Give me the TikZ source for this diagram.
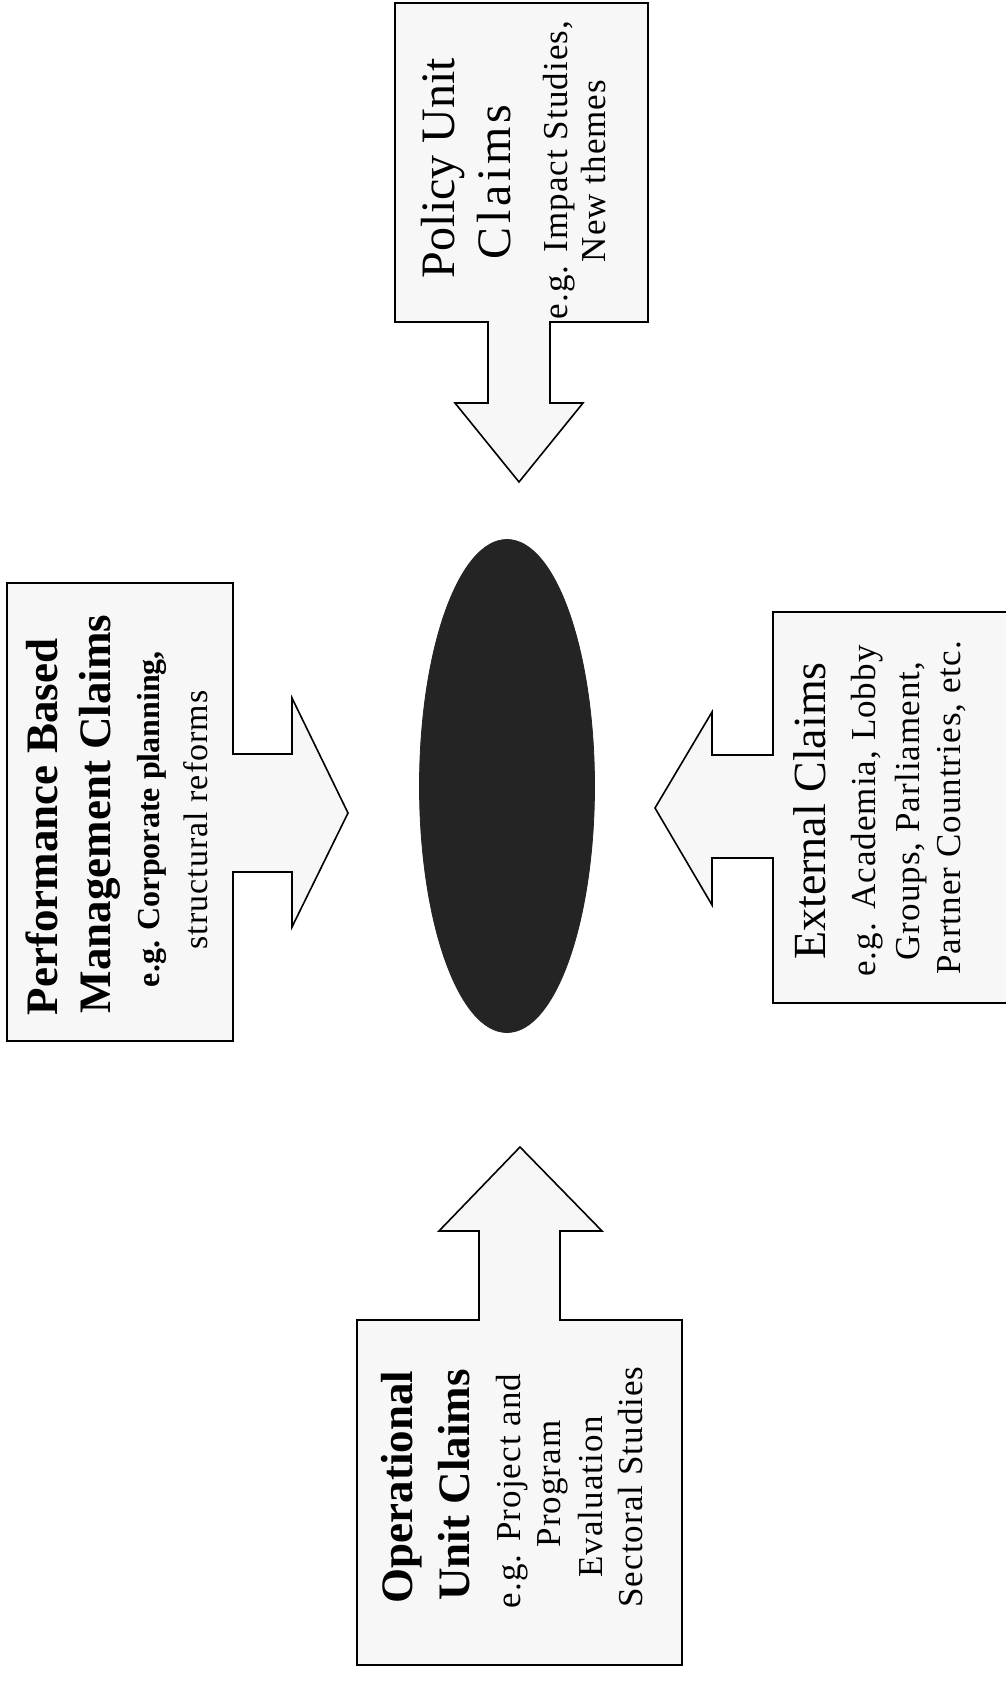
\documentclass[tikz,border=0pt]{standalone}
\usepackage{fontspec}
\setmainfont{Liberation Serif}
\usetikzlibrary{shapes.geometric}
\begin{document}
\begin{tikzpicture}[x=1pt,y=-1pt,
  blk/.style={draw=black,line width=1.6pt,fill=black!3,line join=miter},
  lbl/.style={rotate=90,anchor=center,inner sep=0pt,text height=0.7em,text depth=0.2em},
  ttlR/.style={lbl,font=\fontsize{48}{50}\selectfont},
  ttlB/.style={lbl,font=\fontsize{45}{47}\selectfont\bfseries},
  subR/.style={lbl,font=\fontsize{35}{37}\selectfont\addfontfeature{LetterSpace=3}},
  subB/.style={lbl,font=\fontsize{32}{34}\selectfont\bfseries}]
\useasboundingbox (0,0) rectangle (1006,1683);
\fill[white] (0,0) rectangle (1006,1683);
\clip (0,0) rectangle (1006,1683);

% Policy Unit box with downward arrow
\path[blk] (395,3) -- (648,3) -- (648,322) -- (550,322) -- (550,403) -- (583,403)
  -- (519,482) -- (455,403) -- (488,403) -- (488,322) -- (395,322) -- cycle;
% Performance box with rightward arrow
\path[blk] (7,583) -- (233,583) -- (233,754) -- (292,754) -- (292,698) -- (348,813)
  -- (292,927) -- (292,872) -- (233,872) -- (233,1041) -- (7,1041) -- cycle;
% External box with leftward arrow
\path[blk] (1020,612) -- (773,612) -- (773,755) -- (712,755) -- (712,712) -- (655,808)
  -- (712,905) -- (712,858) -- (773,858) -- (773,1003) -- (1020,1003) -- cycle;
% Operational box with upward arrow
\path[blk] (357,1665) -- (357,1320) -- (479,1320) -- (479,1231) -- (439,1231)
  -- (520,1147) -- (602,1231) -- (560,1231) -- (560,1320) -- (682,1320) -- (682,1665) -- cycle;

% central ellipse
\node[ellipse,fill=black!86,draw=black!86,line width=0.8pt,minimum width=175pt,minimum height=493pt,inner sep=0pt] (core) at (507,786) {};

% Policy texts
\node[ttlR] (pol1) at (452,168) {Policy Unit};
\node[ttlR,font=\fontsize{48}{50}\selectfont\addfontfeature{LetterSpace=8}] (pol2) at (508,182) {Claims};
\node[subR] (pol3) at (565,170) {e.g. Impact Studies,};
\node[subR] (pol4) at (603,171) {New themes};

% Performance texts
\node[ttlB] (per1) at (55,827) {Performance Based};
\node[ttlB] (per2) at (108,814) {Management Claims};
\node[subB] (per3) at (157,819) {e.g. Corporate planning,};
\node[subR,font=\fontsize{34}{36}\selectfont\addfontfeature{LetterSpace=3}] (per4) at (205,820) {structural reforms};

% External texts
\node[ttlR,font=\fontsize{46}{48}\selectfont] (ext1) at (823,811) {External Claims};
\node[subR] (ext2) at (873,811) {e.g. Academia, Lobby};
\node[subR] (ext3) at (917,811) {Groups, Parliament,};
\node[subR] (ext4) at (958,808) {Partner Countries, etc.};

% Operational texts
\node[ttlB] (op1) at (410,1487) {Operational};
\node[ttlB] (op2) at (467,1485) {Unit Claims};
\node[subR] (op3) at (518,1491) {e.g. Project and};
\node[subR] (op4) at (558,1484) {Program};
\node[subR] (op5) at (600,1497) {Evaluation};
\node[subR] (op6) at (640,1487) {Sectoral Studies};
\end{tikzpicture}
\end{document}
